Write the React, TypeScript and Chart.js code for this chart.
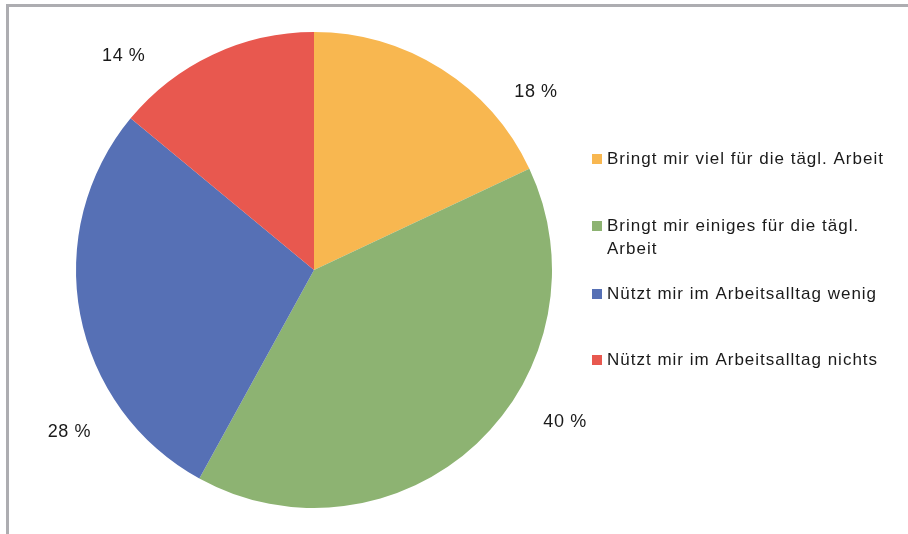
import React, { useEffect, useRef } from "react";
import { Chart, registerables } from "chart.js";

Chart.register(...registerables);

const categories = [
  "Bringt mir viel für die tägl. Arbeit",
  "Bringt mir einiges für die tägl. Arbeit",
  "Nützt mir im Arbeitsalltag wenig",
  "Nützt mir im Arbeitsalltag nichts",
];
const legendLines = [
  ["Bringt mir viel für die tägl. Arbeit"],
  ["Bringt mir einiges für die tägl.", "Arbeit"],
  ["Nützt mir im Arbeitsalltag wenig"],
  ["Nützt mir im Arbeitsalltag nichts"],
];
const values = [18, 40, 28, 14];
const valueLabels = ["18 %", "40 %", "28 %", "14 %"];
const colors = ["#F8B750", "#8DB372", "#5670B5", "#E8584F"];
// where along each slice (0 = start, 1 = end) its outside label sits, and how far out
const labelFraction = [0.79, 0.391, 0.276, 0.177];
const labelRadius = [1.197, 1.232, 1.231, 1.207];

const FONT = "'Liberation Sans', Arial, Helvetica, sans-serif";

const overlay = {
  id: "overlay",
  afterDraw(chart: any) {
    const ctx = chart.ctx;
    ctx.save();
    // frame lines (top and left)
    ctx.fillStyle = "#ADADB1";
    ctx.fillRect(6, 4, chart.width - 6, 3);
    ctx.fillRect(6, 4, 3, chart.height - 4);

    // value labels outside slices
    const meta = chart.getDatasetMeta(0);
    ctx.fillStyle = "#1a1a1a";
    ctx.font = `18px ${FONT}`;
    (ctx as any).letterSpacing = "0.6px";
    ctx.textAlign = "center";
    ctx.textBaseline = "middle";
    meta.data.forEach((arc: any, i: number) => {
      const { x, y, startAngle, endAngle, outerRadius } = arc.getProps(
        ["x", "y", "startAngle", "endAngle", "outerRadius"],
        true
      );
      const a = startAngle + (endAngle - startAngle) * labelFraction[i];
      const r = outerRadius * labelRadius[i];
      ctx.fillText(valueLabels[i], x + Math.cos(a) * r, y + Math.sin(a) * r + 1);
    });

    // legend
    const ca = chart.chartArea;
    const lx = ca.right + 40;
    const rows = [159, 226, 294, 360];
    ctx.textAlign = "left";
    ctx.font = `17px ${FONT}`;
    (ctx as any).letterSpacing = "1px";
    legendLines.forEach((lines, i) => {
      ctx.fillStyle = colors[i];
      ctx.fillRect(lx, rows[i] - 5, 10, 10);
      ctx.fillStyle = "#1a1a1a";
      lines.forEach((t, j) => {
        ctx.fillText(t, lx + 15, rows[i] + j * 23);
      });
    });
    ctx.restore();
  },
};

export default function App() {
  const ref = useRef<HTMLCanvasElement>(null);
  useEffect(() => {
    if (!ref.current) return;
    const chart = new Chart(ref.current, {
      type: "pie",
      data: {
        labels: categories,
        datasets: [
          {
            data: values,
            backgroundColor: colors,
            borderWidth: 0,
          },
        ],
      },
      options: {
        responsive: false,
        animation: false,
        layout: { padding: { left: 76, right: 356, top: 32, bottom: 26 } },
        plugins: {
          legend: { display: false },
          tooltip: { enabled: false },
        },
      },
      plugins: [overlay],
    });
    return () => chart.destroy();
  }, []);
  return (
    <div style={{ position: "absolute", left: 0, top: 0, width: 908, height: 534, background: "#fff" }}>
      <canvas ref={ref} width={908} height={534} style={{ display: "block" }} />
    </div>
  );
}
